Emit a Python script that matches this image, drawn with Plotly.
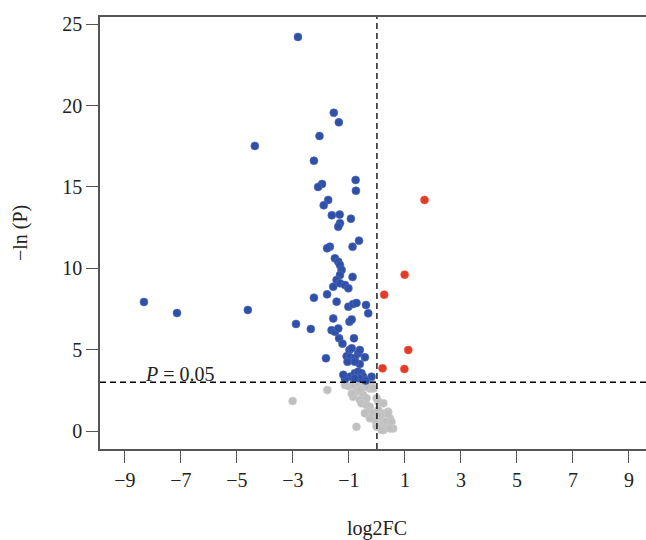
import plotly.graph_objects as go

# ---- data (log2FC, -ln(P)) ----
down_x = [-2.82, -4.36, -1.54, -1.36, -2.05, -2.25, -0.76, -0.75, -1.96, -2.10,
          -1.74, -1.90, -1.61, -1.33, -0.93, -1.32, -1.38, -0.64, -0.87, -1.68,
          -1.78, -1.50, -1.38, -1.32, -1.26, -1.32, -1.44, -1.32, -1.14, -1.02,
          -1.56, -1.78, -0.87, -1.44, -1.02, -0.85, -0.73, -0.39, -0.31, -1.56,
          -0.98, -0.90, -2.25, -8.32, -7.14, -4.61, -2.89, -2.36, -1.62, -1.50,
          -1.38, -1.35, -1.23, -0.82, -0.98, -0.90, -0.67, -0.61, -1.08, -0.96,
          -0.79, -0.43, -1.82, -0.61, -0.79, -1.05, -1.14, -0.96, -0.79, -0.67,
          -0.55, -0.49, -0.61, -0.79, -0.19, -1.14, -1.20, -0.40]
down_y = [24.22, 17.52, 19.56, 18.97, 18.13, 16.61, 15.43, 14.77, 15.18, 15.00,
          14.20, 13.87, 13.26, 13.30, 13.05, 12.77, 12.56, 11.70, 11.33, 11.33,
          11.23, 10.61, 10.41, 10.20, 9.90, 9.59, 9.28, 9.08, 8.97, 8.77,
          8.87, 8.40, 9.47, 7.95, 7.64, 7.80, 7.87, 7.74, 7.23, 6.92,
          6.72, 6.86, 8.19, 7.93, 7.25, 7.44, 6.58, 6.27, 6.20, 6.10,
          6.30, 5.70, 5.37, 5.70, 4.98, 5.08, 4.77, 4.98, 4.60, 4.53,
          4.47, 4.53, 4.47, 4.12, 4.26, 4.25, 3.30, 3.34, 3.55, 3.64,
          3.55, 3.34, 3.24, 3.24, 3.34, 3.20, 3.45, 3.10]

up_x = [1.70, 0.99, 0.26, 1.12, 0.20, 0.98]
up_y = [14.20, 9.61, 8.38, 4.98, 3.85, 3.81]

ns_x = [-1.14, -1.02, -0.85, -0.67, -0.49, -0.37, -0.19, -0.25, -0.73, -0.85,
        -0.49, -0.37, -0.61, -0.55, -0.37, -0.25, -0.01, 0.05, 0.23, -0.31,
        -0.13, 0.05, 0.11, 0.29, 0.40, 0.46, 0.29, 0.11, 0.46, 0.23,
        -0.01, -0.07, -0.25, -0.43, -0.73, -1.77, -3.01, -0.37, -0.13, 0.40,
        0.52, 0.58, 0.23, -0.01, 0.46, 0.17, -0.90, -0.60]
ns_y = [2.83, 2.77, 2.83, 2.89, 2.72, 2.93, 2.93, 2.62, 2.42, 2.11,
        2.21, 2.01, 1.91, 1.70, 1.60, 1.49, 2.01, 1.80, 1.70, 1.19,
        1.09, 1.29, 0.88, 1.09, 1.19, 0.78, 0.57, 0.37, 0.26, 0.16,
        0.37, 0.68, 0.78, 1.09, 0.26, 2.52, 1.84, 2.72, 2.62, 1.09,
        0.57, 0.16, 0.06, 0.26, 0.16, 0.06, 2.30, 2.55]

p_cut = 2.996  # -ln(0.05)
x_ticks = [-9, -7, -5, -3, -1, 1, 3, 5, 7, 9]
x_ticktext = ["\u22129", "\u22127", "\u22125", "\u22123", "\u22121", "1", "3", "5", "7", "9"]
y_ticks = [0, 5, 10, 15, 20, 25]

FONT = "Liberation Serif, Times New Roman, serif"
BLUE = "rgb(48,80,168)"
RED = "rgb(228,58,40)"
GRAY = "rgb(192,192,192)"

fig = go.Figure()
fig.add_trace(go.Scatter(x=ns_x, y=ns_y, mode="markers",
                         marker=dict(size=8, color=GRAY, line=dict(width=0.6, color="rgb(205,205,205)")),
                         showlegend=False))
fig.add_trace(go.Scatter(x=down_x, y=down_y, mode="markers",
                         marker=dict(size=8, color=BLUE, line=dict(width=0.6, color="rgb(80,110,190)")),
                         showlegend=False))
fig.add_trace(go.Scatter(x=up_x, y=up_y, mode="markers",
                         marker=dict(size=8, color=RED, line=dict(width=0.6, color="rgb(240,90,70)")),
                         showlegend=False))

# threshold lines
fig.add_shape(type="line", xref="paper", yref="y", x0=0, x1=1, y0=p_cut, y1=p_cut,
              line=dict(color="black", width=1.3, dash="6px,4px"))
fig.add_shape(type="line", xref="x", yref="paper", x0=0, x1=0, y0=0, y1=1,
              line=dict(color="black", width=1.3, dash="6px,4px"))

fig.add_annotation(x=-8.35, y=p_cut, xref="x", yref="y", xanchor="left", yanchor="bottom",
                   text="<i>P</i> = 0.05", showarrow=False, yshift=-5,
                   font=dict(family=FONT, size=20, color="#222"))
fig.add_annotation(x=0.5, y=-0.183, xref="paper", yref="paper", xanchor="center", yanchor="middle",
                   text="log2FC", showarrow=False, xshift=4,
                   font=dict(family=FONT, size=20, color="#222"))
fig.add_annotation(x=-0.1465, y=0.5, xref="paper", yref="paper", xanchor="center", yanchor="middle",
                   text="\u2212ln (P)", showarrow=False, textangle=-90,
                   font=dict(family=FONT, size=20, color="#222"))

fig.update_layout(
    width=646, height=540,
    margin=dict(l=100, r=0, t=17, b=91),
    paper_bgcolor="white", plot_bgcolor="white",
    font=dict(family=FONT, size=20, color="#222"),
    xaxis=dict(range=[-9.89, 9.61], tickvals=x_ticks, ticktext=x_ticktext,
               showgrid=False, zeroline=False, showline=True, mirror=True,
               linecolor="#555", linewidth=1.5, ticks="outside", ticklen=12,
               tickwidth=1.3, tickcolor="#555", tickfont=dict(family=FONT, size=20, color="#222")),
    yaxis=dict(range=[-1.106, 25.445], tickvals=y_ticks,
               showgrid=False, zeroline=False, showline=True, mirror=False,
               linecolor="#555", linewidth=1.5, ticks="outside", ticklen=12,
               tickwidth=1.3, tickcolor="#555", tickfont=dict(family=FONT, size=20, color="#222")),
)

# remove the default page margin so the 646x540 figure fills the window exactly
fig.write_html("out.html",
               config={"displayModeBar": False},
               post_script="document.body.style.margin='0';document.body.style.overflow='hidden';")
